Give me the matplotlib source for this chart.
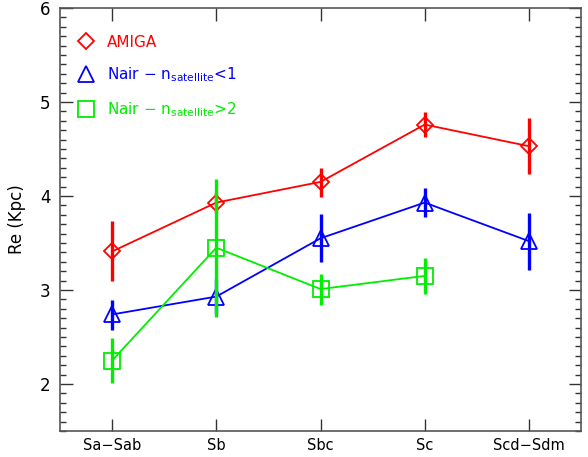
import numpy as np
import matplotlib
matplotlib.use("Agg")
import matplotlib.pyplot as plt
from matplotlib.ticker import MultipleLocator

categories = ["Sa\u2212Sab", "Sb", "Sbc", "Sc", "Scd\u2212Sdm"]

amiga = [3.41, 3.93, 4.15, 4.76, 4.53]
amiga_lo = [3.10, 3.82, 3.99, 4.63, 4.23]
amiga_hi = [3.73, 4.04, 4.30, 4.89, 4.83]

nair1 = [2.74, 2.93, 3.55, 3.93, 3.52]
nair1_lo = [2.57, 2.74, 3.30, 3.78, 3.21]
nair1_hi = [2.89, 3.12, 3.81, 4.09, 3.82]

nair2 = [2.25, 3.45, 3.01, 3.15]
nair2_lo = [2.01, 2.71, 2.84, 2.96]
nair2_hi = [2.49, 4.18, 3.17, 3.34]

plt.rcParams['font.family'] = ['DejaVu Sans']
fig = plt.figure(figsize=(5.88, 4.57), dpi=100)
ax = fig.add_axes([60/588, 26/457, 521/588, 423/457])

x = np.arange(len(categories))

series = [
    (amiga, amiga_lo, amiga_hi, 'red', 'D', 8, 'AMIGA'),
    (nair1, nair1_lo, nair1_hi, 'blue', '^', 11, r'Nair $-$ n$_{\mathrm{satellite}}$<1'),
    (nair2, nair2_lo, nair2_hi, '#00ee00', 's', 11, r'Nair $-$ n$_{\mathrm{satellite}}$>2'),
]

handles = []
for vals, lo, hi, col, mk, ms, lab in series:
    xs = x[:len(vals)]
    vals = np.array(vals)
    yerr = [vals - np.array(lo), np.array(hi) - vals]
    ax.errorbar(xs, vals, yerr=yerr, fmt='none', ecolor=col, elinewidth=2.4, capsize=0)
    ax.plot(xs, vals, color=col, lw=1.3)
    h, = ax.plot(xs, vals, linestyle='none', marker=mk, ms=ms, mfc='none', mec=col, mew=1.3, label=lab)
    handles.append(h)

leg = ax.legend(handles=handles, loc='upper left', bbox_to_anchor=(-0.012, 0.995),
                frameon=False, labelcolor='markeredgecolor',
                fontsize=11, handletextpad=0.9, labelspacing=1.05, borderaxespad=1.2,
                handlelength=1.0)

ax.set_xlim(-0.5, 4.5)
ax.set_ylim(1.5, 6)
ax.set_xticks(x)
ax.set_xticklabels(categories, fontsize=10.5)
ax.yaxis.set_major_locator(MultipleLocator(1))
ax.yaxis.set_minor_locator(MultipleLocator(0.1))
ax.tick_params(axis='both', which='both', direction='in', top=True, right=True)
ax.tick_params(axis='y', labelsize=12)
ax.tick_params(axis='x', which='minor', bottom=False, top=False)
ax.tick_params(which='major', length=9, width=1, color='#333333')
ax.tick_params(which='minor', length=4.5, width=1, color='#333333')
ax.tick_params(axis='x', pad=5)
ax.tick_params(axis='y', pad=7)
for s in ax.spines.values():
    s.set_color('#555555')
    s.set_linewidth(1.2)
ax.set_ylabel('Re (Kpc)', fontsize=12, labelpad=10)

fig.savefig('out.png', dpi=100)
